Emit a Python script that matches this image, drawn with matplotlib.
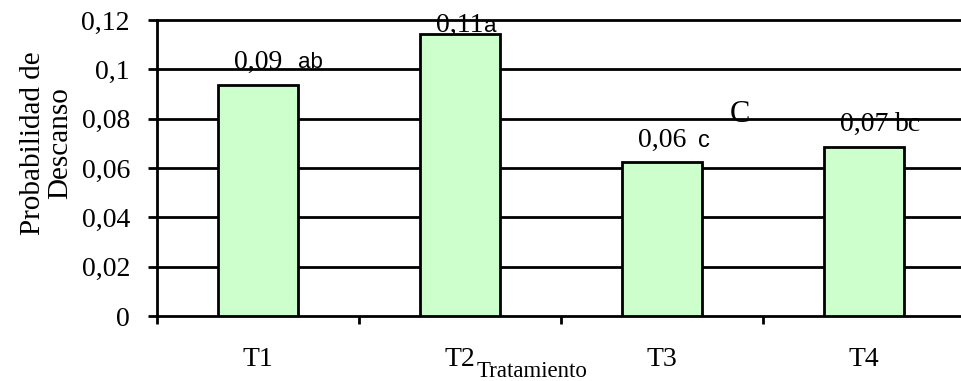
import numpy as np
import matplotlib.pyplot as plt

tratamientos = ['T1', 'T2', 'T3', 'T4']
probabilidad = [0.0936, 0.1143, 0.0624, 0.0685]
etiquetas = ['0,09', '0,11', '0,06', '0,07']
letras = ['ab', 'a', 'c', 'bc']
yticks = [0, 0.02, 0.04, 0.06, 0.08, 0.1, 0.12]
ytick_labels = ['0', '0,02', '0,04', '0,06', '0,08', '0,1', '0,12']

serif = 'Liberation Serif'
sans = 'Liberation Sans'

W, H = 962, 381
fig = plt.figure(figsize=(W / 100, H / 100), dpi=100)
ax = fig.add_axes([157 / W, 65 / H, 808 / W, 296 / H])

x = np.arange(len(tratamientos)) + 0.5
ax.bar(x, probabilidad, width=0.4, color='#CCFFCC', edgecolor='black',
       linewidth=2, zorder=3)

ax.set_xlim(0, 4)
ax.set_ylim(0, 0.12)

# horizontal grid, the top one stands in for the missing top spine
for y in yticks[1:]:
    ax.axhline(y, color='black', linewidth=2, zorder=1, clip_on=False)

ax.set_yticks(yticks)
ax.set_yticklabels(ytick_labels, fontfamily=serif, fontsize=20)
ax.set_xticks([0, 1, 2, 3, 4])
ax.set_xticklabels([])
ax.set_xticks(x, minor=True)
ax.set_xticklabels(tratamientos, minor=True, fontfamily=serif, fontsize=20)
ax.tick_params(axis='x', which='major', direction='out', length=6, width=2)
ax.tick_params(axis='x', which='minor', length=0, pad=22)
ax.tick_params(axis='y', direction='out', length=6.5, width=2, pad=13)

for side in ['top', 'right']:
    ax.spines[side].set_visible(False)
for side in ['left', 'bottom']:
    ax.spines[side].set_linewidth(2)

ax.set_ylabel('Probabilidad de\nDescanso', fontfamily=serif, fontsize=21,
              linespacing=1.05)
ax.yaxis.set_label_coords(-0.104, 0.585)
ax.text(1.584, -0.0183, 'Tratamiento', fontfamily=serif, fontsize=16.5,
        ha='left', va='top')

# value and significance letter above each bar
base_dy = [12, 1.5, 11, 11.5]
letter_dx = [29, 17, 26, 22]
letter_font = [sans, sans, sans, serif]
letter_size = [16, 16, 17, 20]
for xi, v, lab, let, dy, dx, lf, ls in zip(x, probabilidad, etiquetas, letras,
                                           base_dy, letter_dx, letter_font,
                                           letter_size):
    ax.annotate(lab, (xi, v), xytext=(0, dy), textcoords='offset points',
                ha='center', va='baseline', fontfamily=serif, fontsize=20,
                zorder=4, annotation_clip=False)
    ax.annotate(let, (xi, v), xytext=(dx, dy), textcoords='offset points',
                ha='left', va='baseline', fontfamily=lf, fontsize=ls,
                zorder=4, annotation_clip=False)

ax.text(2.837, 0.0786, 'C', fontfamily=serif, fontsize=22, va='baseline')

fig.savefig('out.png', dpi=100)
